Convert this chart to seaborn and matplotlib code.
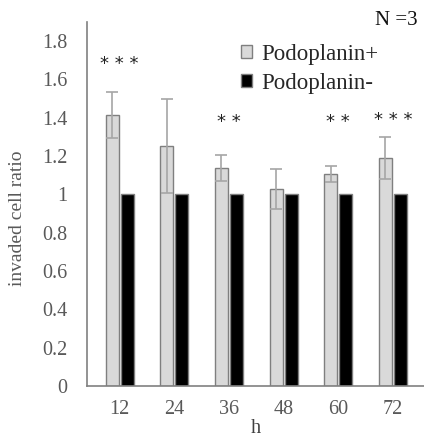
import numpy as np
import pandas as pd
import matplotlib
matplotlib.use("Agg")
import matplotlib.pyplot as plt
import seaborn as sns

hours = ["12", "24", "36", "48", "60", "72"]
pos_vals = [1.415, 1.253, 1.138, 1.029, 1.107, 1.19]
pos_err = [0.12, 0.245, 0.066, 0.105, 0.042, 0.112]
neg_vals = [1.0, 1.0, 1.0, 1.0, 1.0, 1.0]
stars = ["* * *", "", "* *", "", "* *", "* * *"]
star_y = [1.68, None, 1.38, None, 1.38, 1.39]
series = ["Podoplanin+", "Podoplanin-"]

df = pd.DataFrame({
    "h": hours * 2,
    "ratio": pos_vals + neg_vals,
    "group": [series[0]] * 6 + [series[1]] * 6,
})

sns.set_theme(style="white")
plt.rcParams["font.family"] = ["Liberation Serif", "DejaVu Serif"]

fig = plt.figure(figsize=(4.24, 4.40), dpi=100)
ax = fig.add_axes([0.205, 0.123, 0.795, 0.827])

sns.barplot(data=df, x="h", y="ratio", hue="group", order=hours, hue_order=series,
            palette=["#d9d9d9", "#000000"], width=0.55, gap=0.13, errorbar=None,
            edgecolor="#7f7f7f", linewidth=1.0, ax=ax, legend=True)

# error bars on the Podoplanin+ bars
pos_patches = [p for p in ax.patches[:6]]
xs = [p.get_x() + p.get_width() / 2 for p in pos_patches]
ax.errorbar(xs, pos_vals, yerr=pos_err, fmt="none", ecolor="#a6a6a6",
            elinewidth=1.2, capsize=4, capthick=1.2, zorder=3)

for i, (s, y) in enumerate(zip(stars, star_y)):
    if s:
        ax.text(i, y, s, ha="center", va="center", family="DejaVu Sans",
                fontsize=13, color="#222222")

ax.set_ylim(0, 1.9)
ax.set_xlim(-0.6, 5.57)
ax.set_yticks([0, 0.2, 0.4, 0.6, 0.8, 1.0, 1.2, 1.4, 1.6, 1.8])
ax.set_yticklabels(["0", "0.2", "0.4", "0.6", "0.8", "1", "1.2", "1.4", "1.6", "1.8"])
ax.tick_params(axis="both", length=0, labelsize=14.5, labelcolor="#595959", pad=10)
ax.tick_params(axis="y", pad=14)
for s in ["top", "right"]:
    ax.spines[s].set_visible(False)
for s in ["left", "bottom"]:
    ax.spines[s].set_color("#808080")
    ax.spines[s].set_linewidth(1.2)

ax.set_xlabel("h", fontsize=14.5, color="#404040", labelpad=0)
ax.set_ylabel("invaded cell ratio", fontsize=14, color="#595959")
ax.yaxis.set_label_coords(-0.18, 0.46)

handles, labels = ax.get_legend_handles_labels()
leg = ax.legend(handles, labels, loc="upper left", bbox_to_anchor=(0.43, 0.965),
                frameon=False, fontsize=16.5, handlelength=0.5, handleheight=0.5,
                handletextpad=0.4, labelspacing=0.35, borderaxespad=0)
fig.text(0.985, 0.953, "N =3", ha="right", va="center", fontsize=15, color="#111111")

fig.savefig("out.png", dpi=100)
